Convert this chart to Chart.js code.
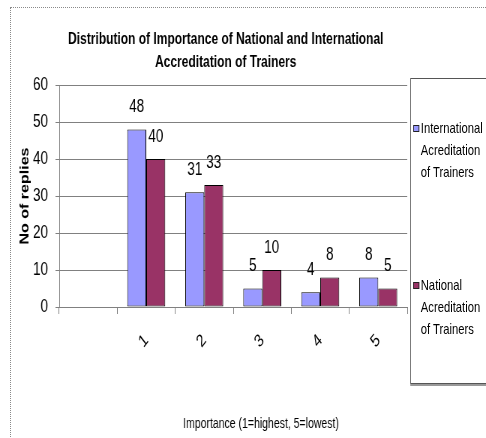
<!DOCTYPE html>
<html>
<head>
<meta charset="utf-8">
<script src="https://cdn.jsdelivr.net/npm/chart.js@4/dist/chart.umd.min.js"></script>
<style>
  html, body { margin:0; padding:0; background:#fff; width:486px; height:438px; overflow:hidden; }
  #frame { position:absolute; left:10px; top:7px; width:600px; height:600px; border:1px dotted #8a8a8a; }
  /* the original picture is squeezed sideways, so everything is drawn wide and squeezed the same way */
  #squeeze { position:absolute; left:0; top:0; width:648px; height:438px; transform:scaleX(0.75); transform-origin:0 0; }
  #chart { position:absolute; left:0; top:0; }
  #legend { position:absolute; left:547px; top:78px; width:140px; height:304px; border:1px solid #555;
            box-shadow:0 2px 0 #999; background:#fff; font-family:'Liberation Sans',Arial,sans-serif;
            font-size:15px; line-height:22px; color:#000; }
  .item { position:absolute; left:3px; display:flex; align-items:flex-start; }
  .mark { width:6px; height:5px; border:1px solid #222; margin-top:8px; margin-right:2px; flex:none; }
  .txt { width:88px; }
</style>
</head>
<body>
<div id="frame"></div>
<div id="squeeze">
  <canvas id="chart" width="648" height="438"></canvas>
  <div id="legend"></div>
</div>
<script>
// ---------- data ----------
const categories = ['', '1', '2', '3', '4', '5'];
const international = [null, 48, 31, 5, 4, 8];
const national = [null, 40, 33, 10, 8, 5];
const seriesNames = ['International Acreditation of Trainers', 'National Acreditation of Trainers'];
const seriesColors = ['#9999ff', '#993366'];
const yTicks = { min: 0, max: 60, step: 10 };

const FONT = "'Liberation Sans',Arial,sans-serif";
const GRID = '#808080';

// value labels above each bar
const barValues = {
  id: 'barValues',
  afterDatasetsDraw(chart){
    const ctx = chart.ctx;
    ctx.save();
    ctx.font = '18px ' + FONT;
    ctx.fillStyle = '#000';
    ctx.textAlign = 'center';
    ctx.textBaseline = 'middle';
    chart.data.datasets.forEach((ds, i)=>{
      chart.getDatasetMeta(i).data.forEach((el, j)=>{
        if(ds.data[j] == null) return;
        ctx.fillText(String(ds.data[j]), el.x, el.y - 22);
      });
    });
    ctx.restore();
  }
};

// x axis caption, sits a bit right of the plot centre like the original
const xCaption = {
  id: 'xCaption',
  afterDraw(chart){
    const x = chart.scales.x;
    const ctx = chart.ctx;
    ctx.save();
    ctx.font = '14px ' + FONT;
    ctx.fillStyle = '#000';
    ctx.textAlign = 'center';
    ctx.textBaseline = 'middle';
    ctx.fillText('Importance (1=highest, 5=lowest)', (x.left + x.right) / 2 + 37, x.bottom - 14);
    ctx.restore();
  }
};

const chart = new Chart(document.getElementById('chart'), {
  type: 'bar',
  data: {
    labels: categories,
    datasets: [
      { label: seriesNames[0], data: international, backgroundColor: seriesColors[0] },
      { label: seriesNames[1], data: national, backgroundColor: seriesColors[1] }
    ]
  },
  options: {
    responsive: false,
    animation: false,
    layout: { padding: { left: 16, right: 62, top: 18, bottom: 0 } },
    datasets: {
      bar: { borderColor: '#000', borderWidth: 1, borderSkipped: false,
             categoryPercentage: 0.655, barPercentage: 1 }
    },
    plugins: {
      legend: { display: false },
      tooltip: { enabled: false },
      title: {
        display: true,
        text: ['Distribution of Importance of National and International', 'Accreditation of Trainers'],
        color: '#000',
        font: { family: FONT, size: 16, weight: 'bold', lineHeight: 23/16 },
        padding: { top: 10, bottom: 11 }
      }
    },
    scales: {
      x: {
        grid: { display: true, drawOnChartArea: false, drawTicks: true, tickLength: 7, color: GRID, offset: true },
        border: { display: true, color: GRID },
        ticks: { color: '#000', font: { family: FONT, size: 18 }, minRotation: 45, maxRotation: 45, autoSkip: false, padding: 16 },
        afterFit(s){ s.height = 131; }
      },
      y: {
        min: yTicks.min, max: yTicks.max,
        grid: { color: GRID, drawTicks: true, tickLength: 5 },
        border: { display: true, color: GRID },
        ticks: { stepSize: yTicks.step, color: '#000', font: { family: FONT, size: 18 }, padding: 10 },
        title: { display: true, text: 'No of replies', color: '#000',
                 font: { family: FONT, size: 16, weight: 'bold', lineHeight: 1.2 },
                 padding: { top: 8, bottom: 0 } },
        afterFit(s){ s.width = 63; }
      },
      // empty strip on the right: keeps the plot short of the legend so the title centres like the original
      gap: {
        type: 'linear', position: 'right',
        grid: { display: false }, border: { display: false }, ticks: { display: false },
        afterFit(s){ s.width = 43; }
      }
    }
  },
  plugins: [barValues, xCaption]
});

// ---------- legend (html, boxed like the original) ----------
const legendTops = [117, 274];
const legendEl = document.getElementById('legend');
chart.data.datasets.forEach((ds, i)=>{
  const item = document.createElement('div');
  item.className = 'item';
  item.style.top = (legendTops[i] - 79) + 'px';
  item.innerHTML = `<span class="mark" style="background:${ds.backgroundColor}"></span><span class="txt">${ds.label}</span>`;
  legendEl.appendChild(item);
});
</script>
</body>
</html>
